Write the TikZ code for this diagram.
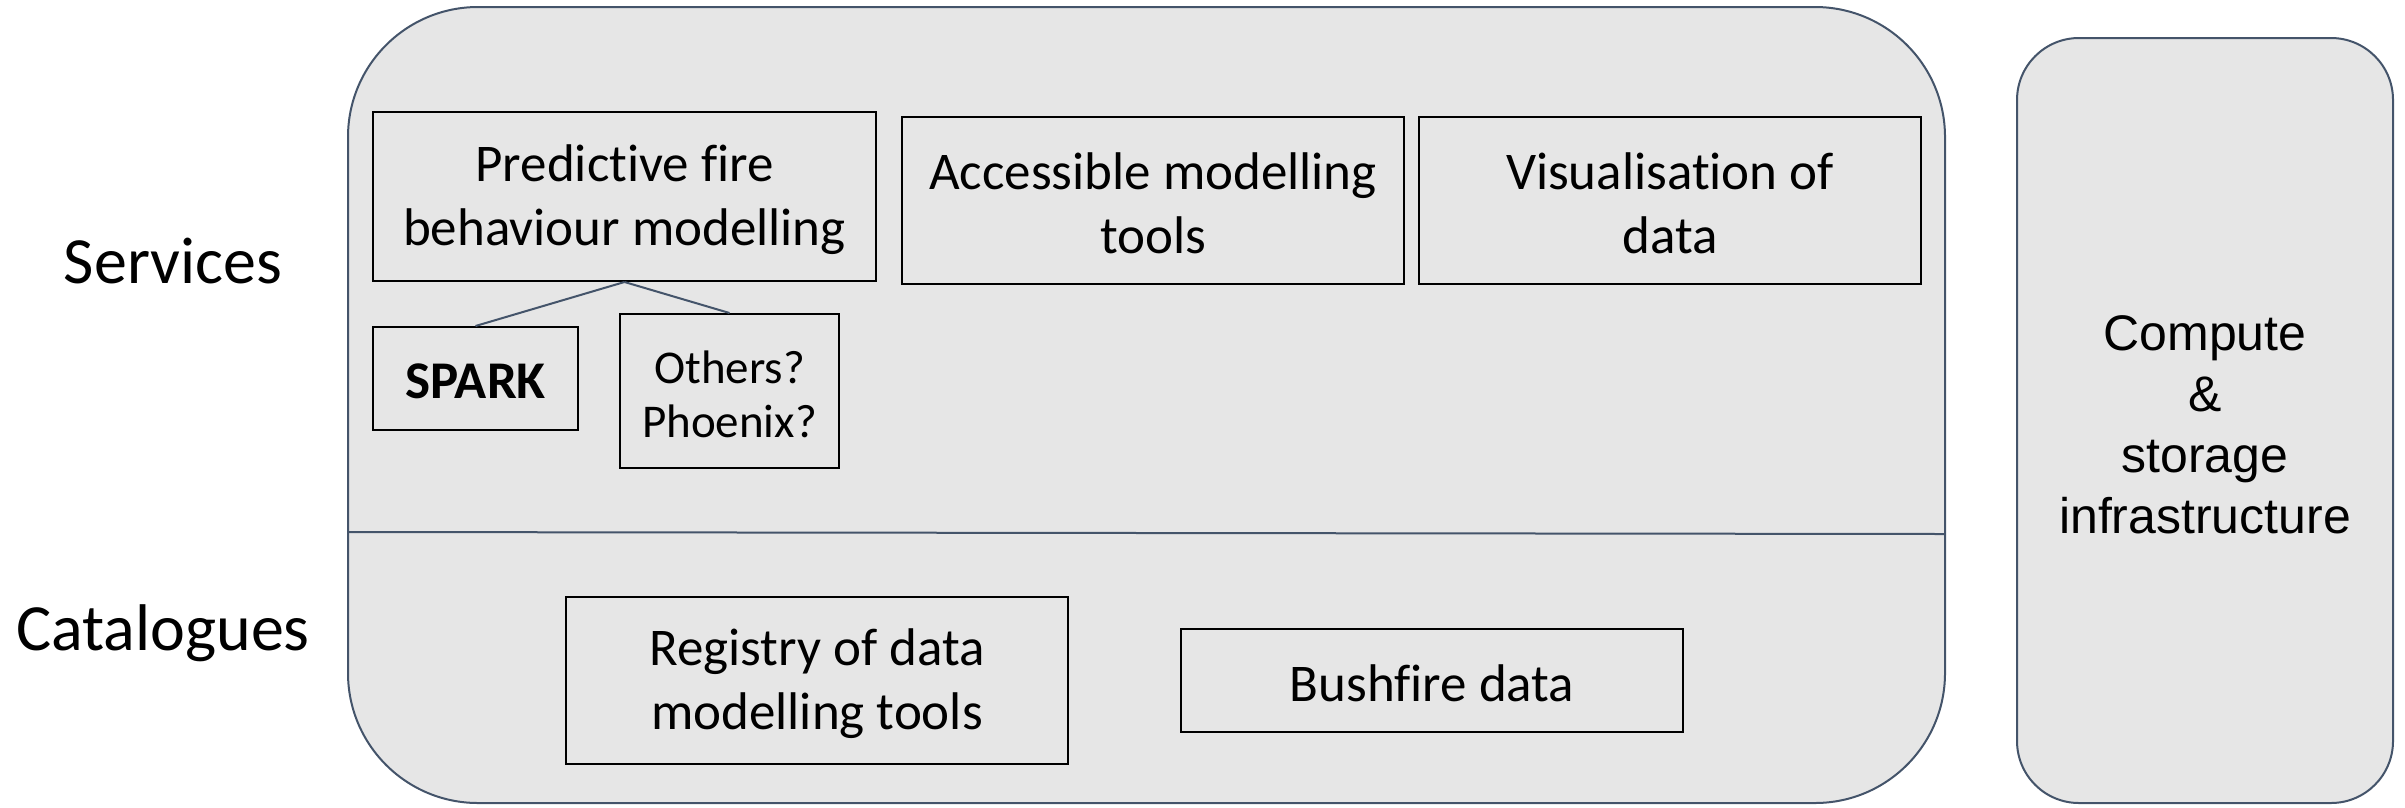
\documentclass[tikz,border=0pt]{standalone}
\usepackage{fontspec}
\setmainfont{Carlito}[Ligatures={NoCommon}]
\newfontfamily\arialf{Liberation Sans}
\definecolor{panelfill}{HTML}{E6E6E6}
\definecolor{panelline}{HTML}{44546A}
\begin{document}
\begin{tikzpicture}[x=1pt,y=-1pt,
  panel/.style={draw=panelline,fill=panelfill,line width=2pt},
  itembox/.style={draw=black,line width=2pt,inner sep=0pt},
  itemtext/.style={align=center,inner sep=0pt,yshift=-3pt,
    font=\fontsize{53}{64}\selectfont},
  lbl/.style={inner sep=0pt,font=\fontsize{66}{79}\selectfont},
  link/.style={draw=panelline,line width=2pt}]
\useasboundingbox (0,0) rectangle (2405,807);
% main panel
\draw[panel,rounded corners=130pt] (348,7) rectangle (1945,803);
\coordinate (dl) at (348,532);
\coordinate (dr) at (1945,534);
\draw[link] (dl) -- (dr);
% right panel
\draw[panel,rounded corners=62pt] (2017,38) rectangle (2393,803);
\node[inner sep=0pt,align=center,font=\arialf\fontsize{50}{61}\selectfont] (cs) at (2205,425) {Compute\\\&\\storage\\infrastructure};
% labels
\node[lbl] (serv) at (173,261) {Services};
\node[lbl] (cat) at (163,633) {Catalogues};
% service boxes
\node[itembox,minimum width=503pt,minimum height=169pt] (pred) at (624.5,196.5) {};
\node[itemtext] (predT) at (pred) {Predictive fire\\behaviour modelling};
\node[itembox,minimum width=502pt,minimum height=167pt] (acc) at (1153,200.5) {};
\node[itemtext] (accT) at (acc) {Accessible modelling\\tools};
\node[itembox,minimum width=502pt,minimum height=167pt] (vis) at (1670,200.5) {};
\node[itemtext] (visT) at (vis) {Visualisation of\\data};
\node[itembox,minimum width=205pt,minimum height=103pt] (spark) at (475.5,378.5) {};
\node[itemtext,font=\fontsize{53}{64}\selectfont\bfseries] (sparkT) at (spark) {SPARK};
\node[itembox,minimum width=219pt,minimum height=154pt] (oth) at (729.5,391) {};
\node[itemtext,font=\fontsize{47}{54}\selectfont] (othT) at (oth) {Others?\\Phoenix?};
\draw[link] (pred.south) -- (spark.north);
\draw[link] (pred.south) -- (oth.north);
% catalogue boxes
\node[itembox,minimum width=502pt,minimum height=167pt] (reg) at (817,680.5) {};
\node[itemtext] (regT) at (reg) {Registry of data\\modelling tools};
\node[itembox,minimum width=502pt,minimum height=103pt] (bush) at (1432,680.5) {};
\node[itemtext] (bushT) at (bush) {Bushfire data};
\end{tikzpicture}
\end{document}
